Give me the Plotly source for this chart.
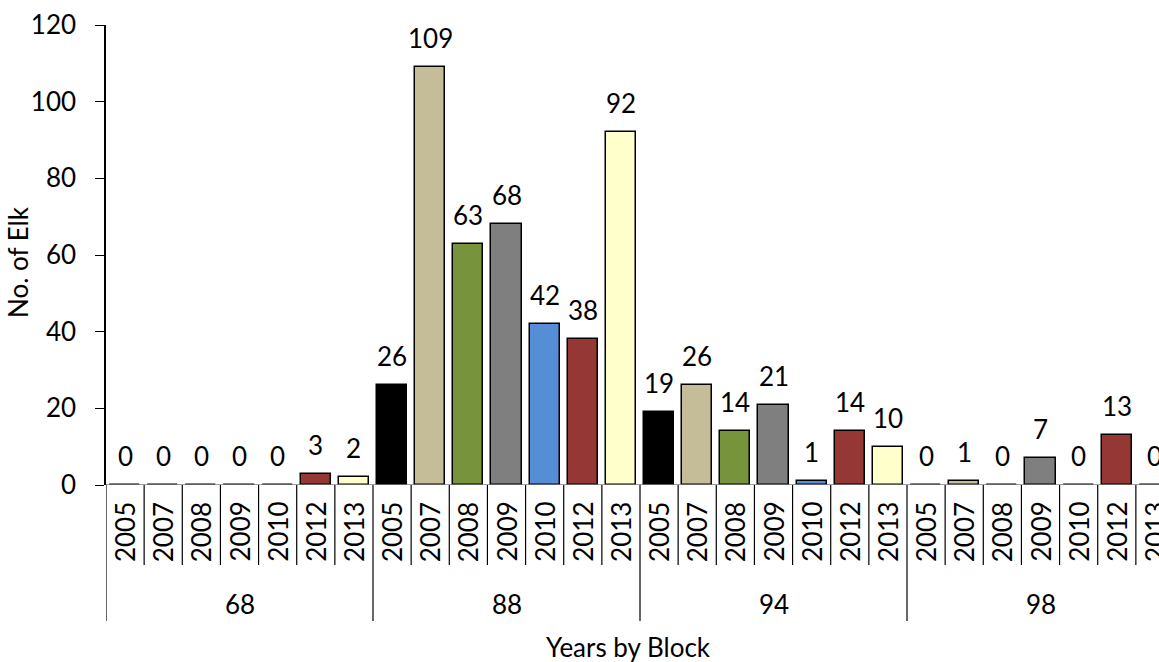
import plotly.graph_objects as go

blocks = ["68", "88", "94", "98"]
years = ["2005", "2007", "2008", "2009", "2010", "2012", "2013"]
elk_68 = [0, 0, 0, 0, 0, 3, 2]
elk_88 = [26, 109, 63, 68, 42, 38, 92]
elk_94 = [19, 26, 14, 21, 1, 14, 10]
elk_98 = [0, 1, 0, 7, 0, 13, 0]
year_colors = ["#000000", "#C4BD97", "#77933C", "#7F7F7F", "#558ED5", "#953735", "#FFFFCC"]

FONT = "Lato"
FS = 26

values = elk_68 + elk_88 + elk_94 + elk_98
n = len(values)
xs = list(range(n))
colors = year_colors * len(blocks)
year_labels = years * len(blocks)

W, H = 1159, 662
L, T, B = 106, 25, 177
R = 0
cat_w = 801 / 21.0
plot_w = W - L - R
x_hi = -0.5 + plot_w / cat_w

def py(p):
    return (485 - p) / 460.0

fig = go.Figure()
fig.add_trace(go.Bar(
    x=xs, y=values, width=0.79,
    marker=dict(color=colors, line=dict(color="#000000", width=1.5)),
    hoverinfo="skip", showlegend=False,
))

ann = []
for i, v in enumerate(values):
    ann.append(dict(x=i, y=v, xref="x", yref="y", text=str(v), showarrow=False,
                    yanchor="bottom", yshift=11, font=dict(family=FONT, size=FS, color="black")))
    ann.append(dict(x=i, y=py(532), xref="x", yref="paper", text=year_labels[i], showarrow=False,
                    textangle=-90, yanchor="middle", xanchor="center",
                    font=dict(family=FONT, size=FS, color="black")))
for b, name in enumerate(blocks):
    ann.append(dict(x=b * 7 + 3, y=py(604), xref="x", yref="paper", text=name, showarrow=False,
                    yanchor="middle", font=dict(family=FONT, size=FS, color="black")))
ann.append(dict(x=(628 - L) / plot_w, y=py(647), xref="paper", yref="paper", text="Years by Block",
                showarrow=False, yanchor="middle", font=dict(family=FONT, size=FS, color="black")))
ann.append(dict(x=(18 - L) / plot_w, y=py(262), xref="paper", yref="paper", text="No. of Elk",
                showarrow=False, textangle=-90, xanchor="center", yanchor="middle",
                font=dict(family=FONT, size=FS, color="black")))

shapes = []
# x axis line
shapes.append(dict(type="line", xref="x", yref="y", x0=-0.5, x1=n - 0.5, y0=0, y1=0,
                   line=dict(color="#808080", width=1.5)))
for k in range(n + 1):
    xpos = k - 0.5
    bottom = 621 if k % 7 == 0 else 565
    shapes.append(dict(type="line", xref="x", yref="paper", x0=xpos, x1=xpos,
                       y0=0, y1=py(bottom), line=dict(color="#000000", width=1.2)))

fig.update_layout(
    width=W, height=H,
    margin=dict(l=L, r=R, t=T, b=B),
    paper_bgcolor="white", plot_bgcolor="white",
    annotations=ann, shapes=shapes,
    bargap=0,
    xaxis=dict(range=[-0.5, x_hi], showticklabels=False, showgrid=False, zeroline=False,
               showline=False, ticks=""),
    yaxis=dict(range=[0, 120], tickvals=[0, 20, 40, 60, 80, 100, 120], showgrid=False,
               zeroline=False, showline=True, linecolor="#000000", linewidth=1.5,
               ticks="outside", ticklen=9, tickcolor="#000000", tickwidth=1.2,
               ticklabelstandoff=14,
               tickfont=dict(family=FONT, size=FS, color="black")),
)
fig.write_html("out.html")
